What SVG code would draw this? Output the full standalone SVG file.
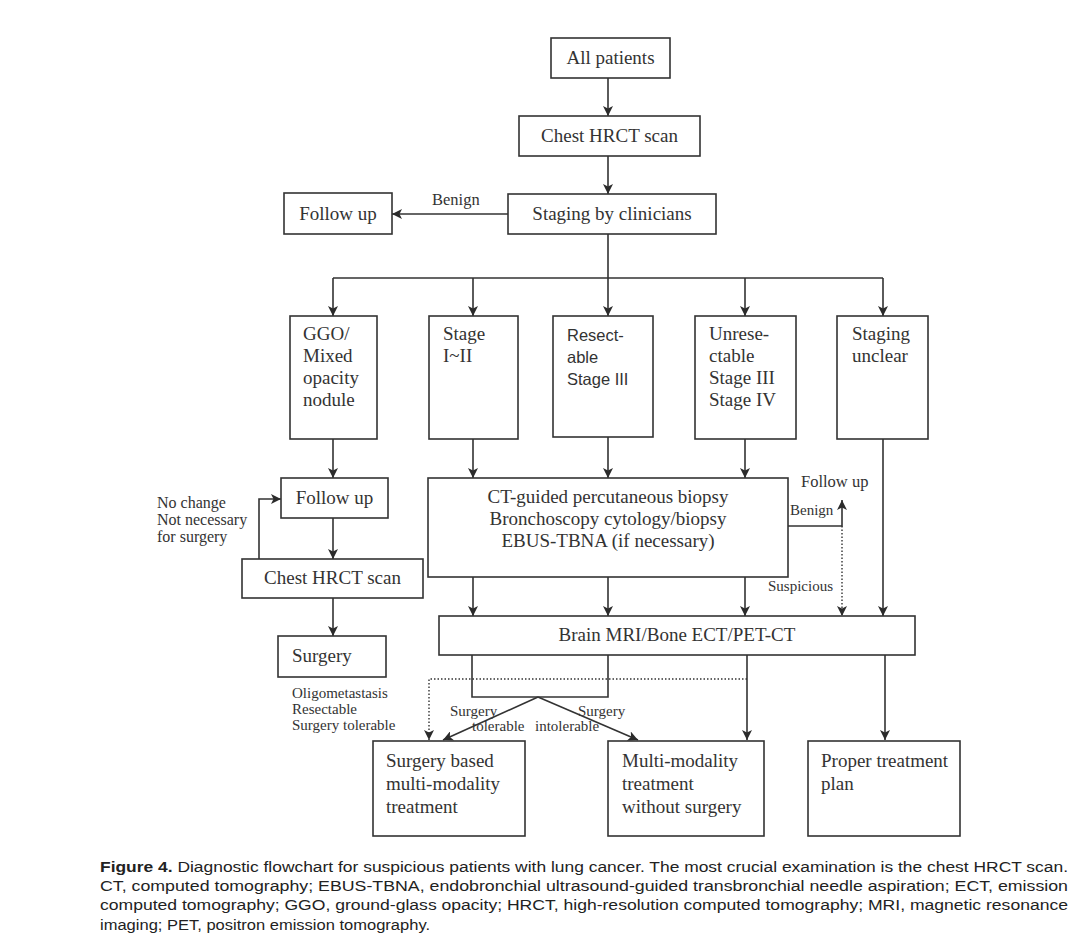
<svg xmlns="http://www.w3.org/2000/svg" width="1080" height="949" viewBox="0 0 1080 949">
<defs>
<marker id="ah" markerUnits="userSpaceOnUse" markerWidth="10" markerHeight="10" refX="10" refY="5" orient="auto">
<path d="M0,0 L10,5 L0,10 L2.5,5 z" fill="#2b2b2b"/>
</marker>
<style>
.box{fill:#fff;stroke:#333;stroke-width:1.6}
.t{font-family:"Liberation Serif","Times New Roman",serif;font-size:19px;fill:#333}
.ts{font-family:"Liberation Sans",Arial,sans-serif;font-size:16.5px;fill:#333}
.l{font-family:"Liberation Serif","Times New Roman",serif;font-size:16.5px;fill:#333}
.n{font-family:"Liberation Serif","Times New Roman",serif;font-size:16px;fill:#333}
.sm{font-family:"Liberation Serif","Times New Roman",serif;font-size:15px;fill:#333}
.c{text-anchor:middle}
.ln{fill:none;stroke:#333;stroke-width:1.6}
.a{marker-end:url(#ah)}
.d{stroke-dasharray:1.5 2;stroke-width:1.4}
.cap{font-family:"Liberation Sans",Arial,sans-serif;font-size:14px;fill:#222}
</style>
</defs>
<rect width="1080" height="949" fill="#fff"/>

<g id="connectors">
<path class="ln a" d="M608,78 V116"/>
<path class="ln a" d="M608,156 V194"/>
<path class="ln a" d="M508,214 H392"/>
<path class="ln" d="M608,234 V278 M333,278 H883"/>
<path class="ln a" d="M333,278 V316"/>
<path class="ln a" d="M473,278 V316"/>
<path class="ln a" d="M608,278 V316"/>
<path class="ln a" d="M745,278 V316"/>
<path class="ln a" d="M883,278 V316"/>
<path class="ln a" d="M333,439 V478"/>
<path class="ln a" d="M473,439 V478"/>
<path class="ln a" d="M608,437 V478"/>
<path class="ln a" d="M745,439 V478"/>
<path class="ln a" d="M883,439 V616"/>
<path class="ln a" d="M333,518 V559"/>
<path class="ln a" d="M259,559 V499 H281"/>
<path class="ln a" d="M333,598 V636"/>
<path class="ln a" d="M473,577 V616"/>
<path class="ln a" d="M608,577 V616"/>
<path class="ln a" d="M745,577 V616"/>
<path class="ln a" d="M788,526 H842 V500"/>
<path class="ln d a" d="M842,526 V616"/>
<path class="ln" d="M472,655 V697 H608 V655"/>
<path class="ln a" d="M538,697 L443,740"/>
<path class="ln a" d="M538,697 L638,740"/>
<path class="ln d a" d="M747,679 H429 V740"/>
<path class="ln a" d="M747,655 V740"/>
<path class="ln a" d="M885,655 V740"/>
<text class="l" x="432" y="205">Benign</text>
<text class="sm" x="790" y="515">Benign</text>
<text class="l" x="801" y="487">Follow up</text>
<text class="sm" x="768" y="591">Suspicious</text>
<text class="n" x="157" y="508">No change</text>
<text class="n" x="157" y="525">Not necessary</text>
<text class="n" x="157" y="542">for surgery</text>
<text class="sm" x="292" y="698">Oligometastasis</text>
<text class="sm" x="292" y="714">Resectable</text>
<text class="sm" x="292" y="730">Surgery tolerable</text>
<text class="sm" x="450" y="716">Surgery</text>
<text class="sm" x="472" y="731">tolerable</text>
<text class="sm" x="535" y="731">intolerable</text>
<text class="sm" x="578" y="716">Surgery</text>
</g>

<g id="all-patients">
<rect class="box" x="551" y="38" width="119" height="40"/>
<text class="t c" x="610.5" y="64">All patients</text>
</g>
<g id="chest-hrct-1">
<rect class="box" x="519" y="116" width="181" height="40"/>
<text class="t c" x="609.5" y="142">Chest HRCT scan</text>
</g>
<g id="staging">
<rect class="box" x="508" y="194" width="208" height="40"/>
<text class="t c" x="612" y="220">Staging by clinicians</text>
</g>
<g id="follow-up-1">
<rect class="box" x="284" y="193" width="108" height="41"/>
<text class="t c" x="338" y="220">Follow up</text>
</g>
<g id="ggo">
<rect class="box" x="290" y="316" width="87" height="123"/>
<text class="t" x="303" y="340">GGO/</text>
<text class="t" x="303" y="362">Mixed</text>
<text class="t" x="303" y="384">opacity</text>
<text class="t" x="303" y="406">nodule</text>
</g>
<g id="stage-i-ii">
<rect class="box" x="429" y="316" width="89" height="123"/>
<text class="t" x="443" y="340">Stage</text>
<text class="t" x="443" y="362">I~II</text>
</g>
<g id="resectable">
<rect class="box" x="553" y="316" width="100" height="121"/>
<text class="ts" x="567" y="341">Resect-</text>
<text class="ts" x="567" y="363">able</text>
<text class="ts" x="567" y="385">Stage III</text>
</g>
<g id="unresectable">
<rect class="box" x="695" y="316" width="101" height="123"/>
<text class="t" x="709" y="340">Unrese-</text>
<text class="t" x="709" y="362">ctable</text>
<text class="t" x="709" y="384">Stage III</text>
<text class="t" x="709" y="406">Stage IV</text>
</g>
<g id="staging-unclear">
<rect class="box" x="837" y="316" width="91" height="123"/>
<text class="t" x="852" y="340">Staging</text>
<text class="t" x="852" y="362">unclear</text>
</g>
<g id="follow-up-2">
<rect class="box" x="281" y="478" width="107" height="40"/>
<text class="t c" x="334.5" y="504">Follow up</text>
</g>
<g id="chest-hrct-2">
<rect class="box" x="242" y="559" width="181" height="39"/>
<text class="t c" x="332.5" y="584">Chest HRCT scan</text>
</g>
<g id="surgery">
<rect class="box" x="278" y="636" width="108" height="41"/>
<text class="t" x="292" y="662">Surgery</text>
</g>
<g id="biopsy">
<rect class="box" x="428" y="478" width="360" height="99"/>
<text class="t c" x="608" y="503">CT-guided percutaneous biopsy</text>
<text class="t c" x="608" y="525">Bronchoscopy cytology/biopsy</text>
<text class="t c" x="608" y="547">EBUS-TBNA (if necessary)</text>
</g>
<g id="imaging">
<rect class="box" x="439" y="616" width="476" height="39"/>
<text class="t c" x="677" y="641">Brain MRI/Bone ECT/PET-CT</text>
</g>
<g id="surgery-based">
<rect class="box" x="373" y="741" width="152" height="95"/>
<text class="t" x="386" y="767">Surgery based</text>
<text class="t" x="386" y="790">multi-modality</text>
<text class="t" x="386" y="813">treatment</text>
</g>
<g id="multi-modality">
<rect class="box" x="608" y="741" width="156" height="95"/>
<text class="t" x="622" y="767">Multi-modality</text>
<text class="t" x="622" y="790">treatment</text>
<text class="t" x="622" y="813">without surgery</text>
</g>
<g id="proper-plan">
<rect class="box" x="808" y="741" width="152" height="95"/>
<text class="t" x="821" y="767">Proper treatment</text>
<text class="t" x="821" y="790">plan</text>
</g>

<g id="caption">
<text class="cap" x="100" y="872" textLength="968" lengthAdjust="spacingAndGlyphs"><tspan font-weight="bold">Figure 4.</tspan> Diagnostic flowchart for suspicious patients with lung cancer. The most crucial examination is the chest HRCT scan.</text>
<text class="cap" x="100" y="891" textLength="968" lengthAdjust="spacingAndGlyphs">CT, computed tomography; EBUS-TBNA, endobronchial ultrasound-guided transbronchial needle aspiration; ECT, emission</text>
<text class="cap" x="100" y="910" textLength="968" lengthAdjust="spacingAndGlyphs">computed tomography; GGO, ground-glass opacity; HRCT, high-resolution computed tomography; MRI, magnetic resonance</text>
<text class="cap" x="100" y="930" textLength="330" lengthAdjust="spacingAndGlyphs">imaging; PET, positron emission tomography.</text>
</g>
</svg>
